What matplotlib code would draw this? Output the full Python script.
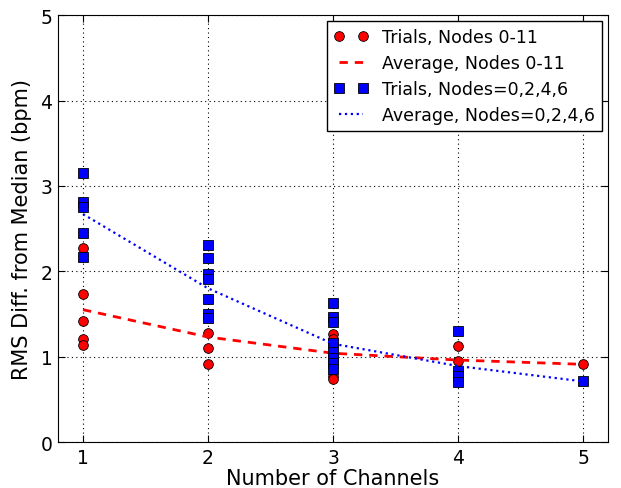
import matplotlib
matplotlib.use("Agg")
import matplotlib.pyplot as plt

# trials, all nodes 0-11
red_x = [1, 1, 1, 1, 1,
         2, 2, 2,
         3, 3, 3, 3, 3,
         4, 4,
         5]
red_y = [2.27, 1.73, 1.42, 1.21, 1.14,
         1.28, 1.10, 0.91,
         1.27, 1.21, 1.15, 0.77, 0.74,
         1.13, 0.95,
         0.91]

# trials, nodes 0,2,4,6
blue_x = [1, 1, 1, 1, 1,
          2, 2, 2, 2, 2, 2, 2,
          3, 3, 3, 3, 3, 3, 3, 3,
          4, 4, 4, 4,
          5]
blue_y = [3.15, 2.81, 2.75, 2.45, 2.17,
          2.31, 2.16, 1.97, 1.91, 1.68, 1.50, 1.45,
          1.63, 1.47, 1.41, 1.16, 1.05, 0.98, 0.92, 0.86,
          1.30, 0.83, 0.77, 0.70,
          0.71]

channels = [1, 2, 3, 4, 5]
red_avg = [1.55, 1.23, 1.04, 0.96, 0.91]
blue_avg = [2.67, 1.80, 1.15, 0.89, 0.71]

plt.rcParams['font.family'] = 'DejaVu Sans'

fig = plt.figure(figsize=(6.21, 4.89), dpi=100)
ax = fig.add_axes([0.0934, 0.094, 0.886, 0.873])

ax.plot(red_x, red_y, 'o', color='r', markersize=7, markeredgecolor='k',
        markeredgewidth=0.6, label='Trials, Nodes 0-11')
ax.plot(channels, red_avg, '--', color='r', linewidth=2,
        dashes=(3, 2.5), label='Average, Nodes 0-11')
ax.plot(blue_x, blue_y, 's', color='b', markersize=7, markeredgecolor='k',
        markeredgewidth=0.6, label='Trials, Nodes=0,2,4,6')
ax.plot(channels, blue_avg, ':', color='b', linewidth=1.6,
        label='Average, Nodes=0,2,4,6')

ax.set_xlim(0.8, 5.2)
ax.set_ylim(0, 5)
ax.set_xticks(channels)
ax.set_yticks([0, 1, 2, 3, 4, 5])
ax.grid(True, color='k', linestyle=(0, (1, 3)), linewidth=0.8)
ax.tick_params(direction='in', top=True, right=True, length=5,
               labelsize=13.5, pad=4)

ax.set_xlabel('Number of Channels', fontsize=15, labelpad=1)
ax.set_ylabel('RMS Diff. from Median (bpm)', fontsize=15, labelpad=6)

leg = ax.legend(loc='upper right', numpoints=2, fontsize=12.5,
                fancybox=False, framealpha=1, edgecolor='k',
                borderaxespad=0.35, handlelength=2.0, labelspacing=0.45,
                handletextpad=0.8)
leg.get_frame().set_linewidth(1)

fig.savefig('out.png', dpi=100, facecolor='white')
